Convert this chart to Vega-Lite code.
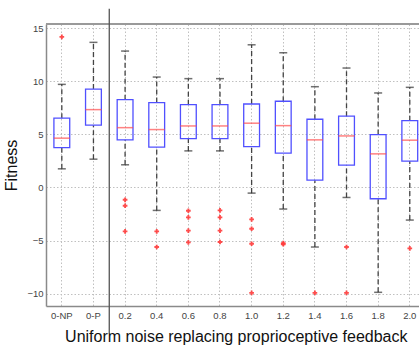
{
  "$schema": "https://vega.github.io/schema/vega-lite/v6.json",
  "width": 373,
  "height": 282,
  "autosize": {"type": "none"},
  "padding": {"left": 46, "top": 24, "right": 0, "bottom": 40},
  "background": "white",
  "config": {
    "font": "Liberation Sans",
    "view": {"stroke": null},
    "axisX": {
      "bandPosition": 0.5,
      "grid": true,
      "gridDash": [1.5, 2],
      "gridColor": "#c0c0c0",
      "domainColor": "#8a8a8a",
      "domainWidth": 1.5,
      "ticks": false,
      "labelAngle": 0,
      "labelFontSize": 9.5,
      "labelColor": "#444444",
      "labelPadding": 4,
      "titleFontSize": 16,
      "titleFontWeight": "normal",
      "titleColor": "#111111",
      "titlePadding": 9
    },
    "axisY": {
      "values": [-10, -5, 0, 5, 10, 15],
      "grid": true,
      "gridDash": [1.5, 2],
      "gridColor": "#c0c0c0",
      "domainColor": "#8a8a8a",
      "domainWidth": 1.5,
      "ticks": false,
      "labelFontSize": 9.5,
      "labelColor": "#444444",
      "labelPadding": 3,
      "titleFontSize": 16,
      "titleFontWeight": "normal",
      "titleColor": "#111111",
      "titlePadding": 7
    }
  },
  "datasets": {
    "stats": [
      {"cat": "0-NP", "lo": 1.76, "q1": 3.76, "med": 4.65, "q3": 6.53, "hi": 9.72},
      {"cat": "0-P", "lo": 2.67, "q1": 5.87, "med": 7.34, "q3": 9.28, "hi": 13.68},
      {"cat": "0.2", "lo": 2.14, "q1": 4.49, "med": 5.64, "q3": 8.28, "hi": 12.86},
      {"cat": "0.4", "lo": -2.16, "q1": 3.8, "med": 5.46, "q3": 8.0, "hi": 10.41},
      {"cat": "0.6", "lo": 3.45, "q1": 4.61, "med": 5.8, "q3": 7.81, "hi": 10.26},
      {"cat": "0.8", "lo": 3.45, "q1": 4.61, "med": 5.8, "q3": 7.81, "hi": 10.26},
      {"cat": "1.0", "lo": -0.53, "q1": 3.86, "med": 6.06, "q3": 7.87, "hi": 13.45},
      {"cat": "1.2", "lo": -2.03, "q1": 3.24, "med": 5.83, "q3": 8.13, "hi": 12.7},
      {"cat": "1.4", "lo": -5.61, "q1": 0.69, "med": 4.49, "q3": 6.43, "hi": 9.5},
      {"cat": "1.6", "lo": -0.94, "q1": 2.1, "med": 4.86, "q3": 6.72, "hi": 11.26},
      {"cat": "1.8", "lo": -9.88, "q1": -1.06, "med": 3.17, "q3": 4.99, "hi": 8.91},
      {"cat": "2.0", "lo": -3.07, "q1": 2.48, "med": 4.46, "q3": 6.3, "hi": 9.44}
    ],
    "outliers": [
      {"cat": "0-NP", "v": 14.2},
      {"cat": "0.2", "v": -1.16},
      {"cat": "0.2", "v": -1.72},
      {"cat": "0.2", "v": -4.14},
      {"cat": "0.4", "v": -4.14},
      {"cat": "0.4", "v": -5.61},
      {"cat": "0.6", "v": -2.19},
      {"cat": "0.6", "v": -2.82},
      {"cat": "0.6", "v": -4.07},
      {"cat": "0.6", "v": -5.17},
      {"cat": "0.8", "v": -2.16},
      {"cat": "0.8", "v": -2.82},
      {"cat": "0.8", "v": -4.07},
      {"cat": "0.8", "v": -5.14},
      {"cat": "1.0", "v": -3.01},
      {"cat": "1.0", "v": -3.89},
      {"cat": "1.0", "v": -5.3},
      {"cat": "1.0", "v": -9.93},
      {"cat": "1.2", "v": -5.25},
      {"cat": "1.2", "v": -5.35},
      {"cat": "1.4", "v": -9.93},
      {"cat": "1.6", "v": -5.61},
      {"cat": "1.6", "v": -9.93},
      {"cat": "2.0", "v": -5.74}
    ],
    "one": [{"cat": "0-P"}]
  },
  "layer": [
    {
      "data": {"name": "one"},
      "mark": {"type": "rule", "color": "#9a9a9a", "strokeWidth": 2},
      "encoding": {
        "y": {"datum": 15.41, "type": "quantitative", "scale": {"domain": [-11.17, 15.41], "nice": false, "zero": false}, "title": "Fitness"}
      }
    },
    {
      "data": {"name": "stats"},
      "mark": {"type": "rule", "color": "#444444", "strokeWidth": 1.3, "strokeDash": [5, 3]},
      "encoding": {
        "x": {"field": "cat", "type": "nominal", "sort": ["0-NP", "0-P", "0.2", "0.4", "0.6", "0.8", "1.0", "1.2", "1.4", "1.6", "1.8", "2.0"], "scale": {"type": "band", "range": [0, 379.6], "paddingInner": 0, "paddingOuter": 0}, "title": "Uniform noise replacing proprioceptive feedback"},
        "y": {"field": "q3", "type": "quantitative", "scale": {"domain": [-11.17, 15.41], "nice": false, "zero": false}, "title": "Fitness"},
        "y2": {"field": "hi"}
      }
    },
    {
      "data": {"name": "stats"},
      "mark": {"type": "rule", "color": "#444444", "strokeWidth": 1.3, "strokeDash": [5, 3]},
      "encoding": {
        "x": {"field": "cat", "type": "nominal", "sort": ["0-NP", "0-P", "0.2", "0.4", "0.6", "0.8", "1.0", "1.2", "1.4", "1.6", "1.8", "2.0"], "title": "Uniform noise replacing proprioceptive feedback"},
        "y": {"field": "lo", "type": "quantitative", "title": "Fitness"},
        "y2": {"field": "q1"}
      }
    },
    {
      "data": {"name": "stats"},
      "mark": {"type": "tick", "color": "#333333", "size": 8, "thickness": 1.5},
      "encoding": {
        "x": {"field": "cat", "type": "nominal", "sort": ["0-NP", "0-P", "0.2", "0.4", "0.6", "0.8", "1.0", "1.2", "1.4", "1.6", "1.8", "2.0"], "title": "Uniform noise replacing proprioceptive feedback"},
        "y": {"field": "hi", "type": "quantitative", "title": "Fitness"}
      }
    },
    {
      "data": {"name": "stats"},
      "mark": {"type": "tick", "color": "#333333", "size": 8, "thickness": 1.5},
      "encoding": {
        "x": {"field": "cat", "type": "nominal", "sort": ["0-NP", "0-P", "0.2", "0.4", "0.6", "0.8", "1.0", "1.2", "1.4", "1.6", "1.8", "2.0"], "title": "Uniform noise replacing proprioceptive feedback"},
        "y": {"field": "lo", "type": "quantitative", "title": "Fitness"}
      }
    },
    {
      "data": {"name": "stats"},
      "mark": {"type": "bar", "width": {"band": 0.5}, "fill": "white", "fillOpacity": 0, "stroke": "#5050ff", "strokeWidth": 1.3},
      "encoding": {
        "x": {"field": "cat", "type": "nominal", "sort": ["0-NP", "0-P", "0.2", "0.4", "0.6", "0.8", "1.0", "1.2", "1.4", "1.6", "1.8", "2.0"], "title": "Uniform noise replacing proprioceptive feedback"},
        "y": {"field": "q1", "type": "quantitative", "title": "Fitness"},
        "y2": {"field": "q3"}
      }
    },
    {
      "data": {"name": "stats"},
      "mark": {"type": "tick", "color": "#ff4d4d", "size": 16, "thickness": 1.5},
      "encoding": {
        "x": {"field": "cat", "type": "nominal", "sort": ["0-NP", "0-P", "0.2", "0.4", "0.6", "0.8", "1.0", "1.2", "1.4", "1.6", "1.8", "2.0"], "title": "Uniform noise replacing proprioceptive feedback"},
        "y": {"field": "med", "type": "quantitative", "title": "Fitness"}
      }
    },
    {
      "data": {"name": "outliers"},
      "mark": {"type": "point", "shape": "cross", "filled": true, "color": "#ff3b3b", "size": 22, "opacity": 0.9},
      "encoding": {
        "x": {"field": "cat", "type": "nominal", "sort": ["0-NP", "0-P", "0.2", "0.4", "0.6", "0.8", "1.0", "1.2", "1.4", "1.6", "1.8", "2.0"], "title": "Uniform noise replacing proprioceptive feedback"},
        "y": {"field": "v", "type": "quantitative", "title": "Fitness"}
      }
    },
    {
      "data": {"name": "one"},
      "mark": {"type": "rule", "color": "#555555", "strokeWidth": 1.3},
      "encoding": {
        "x": {"field": "cat", "type": "nominal", "bandPosition": 1, "sort": ["0-NP", "0-P", "0.2", "0.4", "0.6", "0.8", "1.0", "1.2", "1.4", "1.6", "1.8", "2.0"], "title": "Uniform noise replacing proprioceptive feedback"},
        "y": {"datum": 16.84, "type": "quantitative"},
        "y2": {"datum": -13.76}
      }
    }
  ]
}
